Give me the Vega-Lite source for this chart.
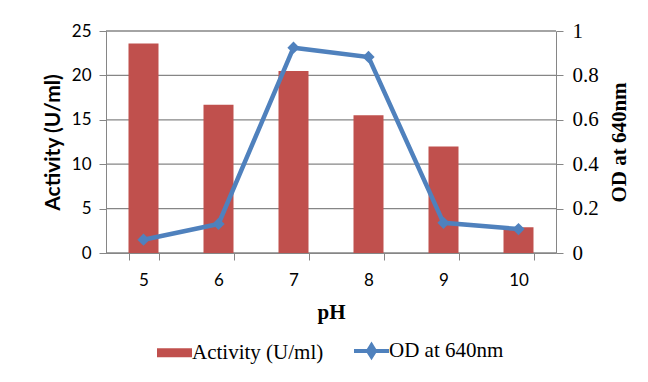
{
  "$schema": "https://vega.github.io/schema/vega-lite/v6.json",
  "width": 450,
  "height": 222,
  "padding": {"left": 42, "top": 20, "right": 20, "bottom": 15},
  "background": "white",
  "datasets": {
    "main": [
      {"pH": 5, "activity": 23.6, "od": 0.060},
      {"pH": 6, "activity": 16.7, "od": 0.131},
      {"pH": 7, "activity": 20.5, "od": 0.925},
      {"pH": 8, "activity": 15.5, "od": 0.883},
      {"pH": 9, "activity": 12.0, "od": 0.136},
      {"pH": 10, "activity": 2.9, "od": 0.108}
    ],
    "gridvals": [{"v": 0}, {"v": 5}, {"v": 10}, {"v": 15}, {"v": 20}, {"v": 25}]
  },
  "config": {
    "view": {"stroke": null},
    "axis": {"domainColor": "#868686", "tickColor": "#868686", "gridColor": "#868686", "labelColor": "black", "titleColor": "black", "tickSize": 7},
    "legend": {"labelFont": "Liberation Serif", "labelFontSize": 21, "labelColor": "black"}
  },
  "layer": [
    {
      "data": {"name": "gridvals"},
      "mark": {"type": "rule", "color": "#868686", "strokeWidth": 1.3},
      "encoding": {
        "y": {"field": "v", "type": "quantitative", "scale": {"domain": [0, 25]}, "axis": null}
      }
    },
    {
      "data": {"name": "main"},
      "mark": {"type": "bar"},
      "encoding": {
        "x": {"field": "pH", "type": "ordinal", "sort": null,
          "scale": {"paddingInner": 0.6, "paddingOuter": 0.3},
          "axis": {"labelAngle": 0, "labelFont": "Lato", "labelFontSize": 17, "labelPadding": 12, "tickBand": "extent", "grid": false,
            "title": "pH", "titleFont": "Liberation Serif", "titleFontSize": 21, "titleFontWeight": "bold", "titlePadding": 13}},
        "y": {"field": "activity", "type": "quantitative", "scale": {"domain": [0, 25]},
          "axis": {"values": [0, 5, 10, 15, 20, 25], "grid": false, "labelFont": "Lato", "labelFontSize": 17, "labelPadding": 8,
            "title": "Activity (U/ml)", "titleFont": "Lato", "titleFontSize": 21, "titleFontWeight": "bold", "titlePadding": 8}},
        "color": {"datum": "Activity (U/ml)", "type": "nominal",
          "scale": {"domain": ["Activity (U/ml)", "OD at 640nm"], "range": ["#C0504D", "#4F81BD"]},
          "legend": {"title": null, "orient": "none", "legendX": 58, "legendY": 309, "direction": "horizontal", "columnPadding": 22, "labelOffset": 7, "symbolSize": 1225,
            "encode": {"symbols": {"update": {
              "shape": {"signal": "datum.value === 'OD at 640nm' ? 'M-1,0L1,0M0,-0.32L0.2,0L0,0.32L-0.2,0Z' : 'M-1,-0.26L1,-0.26L1,0.26L-1,0.26Z'"},
              "fill": {"signal": "scale('color', datum.value)"},
              "stroke": {"signal": "scale('color', datum.value)"},
              "strokeWidth": {"signal": "datum.value === 'OD at 640nm' ? 4 : 0"},
              "opacity": {"value": 1}
            }}}}}
      }
    },
    {
      "data": {"name": "main"},
      "mark": {"type": "line", "strokeWidth": 4.5, "point": {"shape": "diamond", "size": 150, "filled": true, "opacity": 1}},
      "encoding": {
        "x": {"field": "pH", "type": "ordinal", "sort": null},
        "y": {"field": "od", "type": "quantitative", "scale": {"domain": [0, 1]},
          "axis": {"orient": "right", "values": [0, 0.2, 0.4, 0.6, 0.8, 1], "format": "~g", "grid": false, "labelFont": "Liberation Serif", "labelFontSize": 21, "labelPadding": 9,
            "title": "OD at 640nm", "titleFont": "Liberation Serif", "titleFontSize": 21, "titleFontWeight": "bold", "titleAngle": -90, "titleBaseline": "top", "titlePadding": 10}},
        "color": {"datum": "OD at 640nm", "type": "nominal"}
      }
    }
  ],
  "resolve": {"scale": {"y": "independent"}}
}
